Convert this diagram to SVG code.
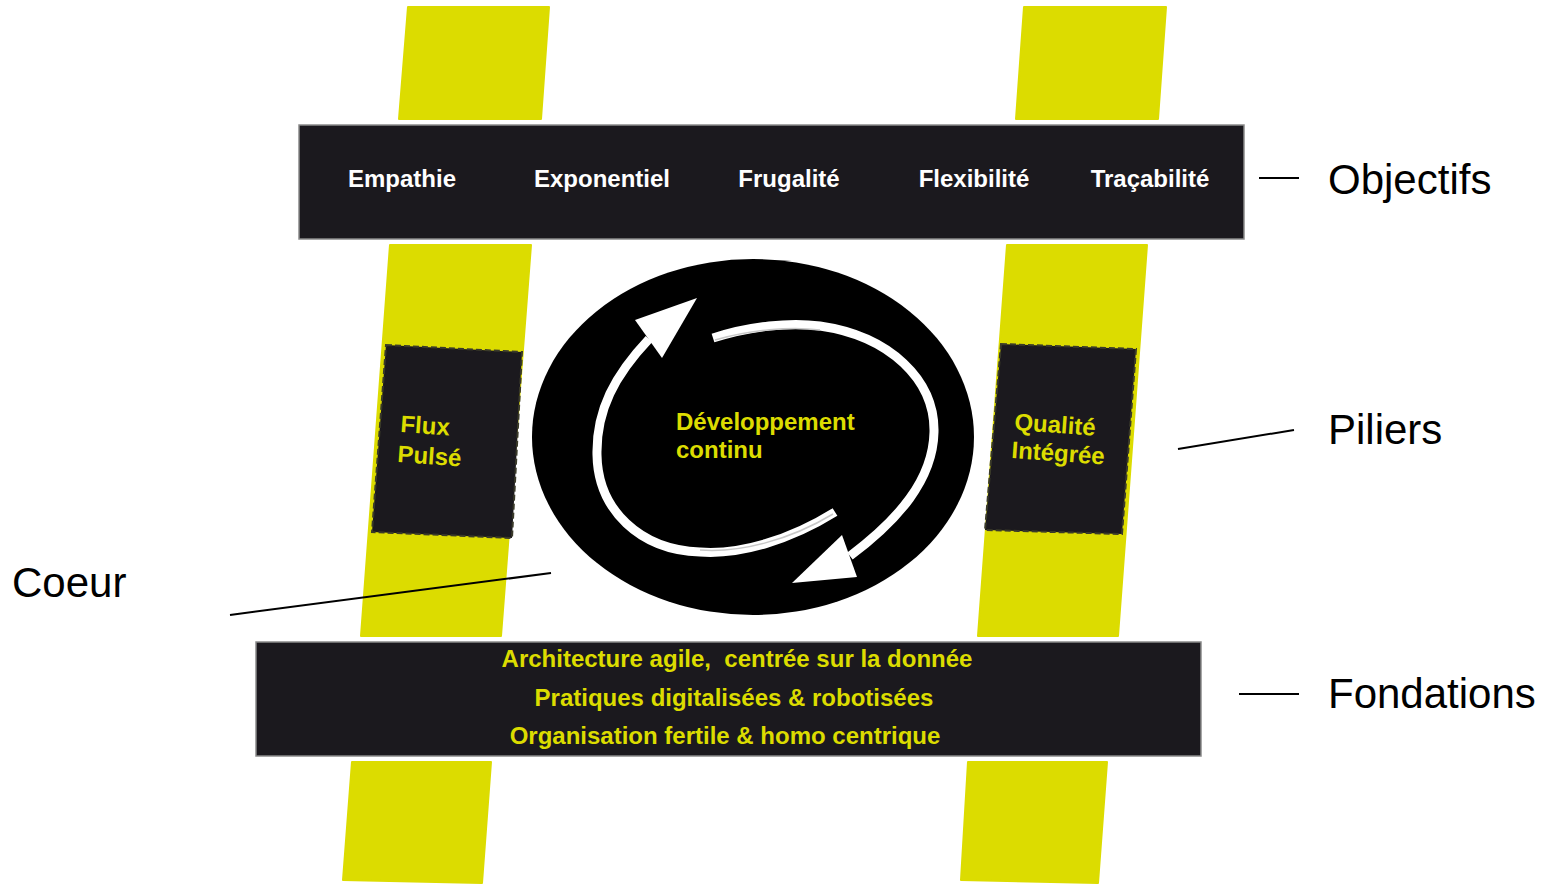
<svg xmlns="http://www.w3.org/2000/svg" width="1548" height="884" viewBox="0 0 1548 884">
<style>
.pil{fill:#dcdc00;stroke:#dcdc00;stroke-width:2;stroke-linejoin:round}
.bar{fill:#1b191e;stroke:#8a8a8a;stroke-width:1.5}
.box{fill:#1b191e;stroke:#3a3a2a;stroke-width:2;stroke-dasharray:6 3}
.tw{font-family:"Liberation Sans",Arial,sans-serif;font-weight:bold;font-size:24px;fill:#ffffff;text-anchor:middle}
.ty{font-family:"Liberation Sans",Arial,sans-serif;font-weight:bold;font-size:24px;fill:#dcdc00}
.tyc{text-anchor:middle;white-space:pre}
.lab{font-family:"Liberation Sans",Arial,sans-serif;font-size:42px;fill:#000000}
.ln{stroke:#000;stroke-width:2;fill:none}
.arc{fill:none;stroke:#ffffff;stroke-width:9;stroke-linecap:butt}
.arcin{fill:none;stroke:#c8c8c8;stroke-width:1.5}
</style>
<rect width="1548" height="884" fill="#ffffff"/>
<g id="pilier-gauche">
<polygon class="pil" points="408,7 549,7 541,119 399,119"/>
<polygon class="pil" points="390,245 531,245 501,636 361,636"/>
<polygon class="pil" points="352,762 491,762 482,883 343,880"/>
</g>
<g id="pilier-droit">
<polygon class="pil" points="1024,7 1166,7 1158,119 1016,119"/>
<polygon class="pil" points="1007,245 1147,245 1118,636 978,636"/>
<polygon class="pil" points="968,762 1107,762 1098,883 961,880"/>
</g>
<g id="objectifs">
<rect class="bar" x="299" y="125" width="945" height="114"/>
<text class="tw" x="402" y="187">Empathie</text>
<text class="tw" x="602" y="187">Exponentiel</text>
<text class="tw" x="789" y="187">Frugalité</text>
<text class="tw" x="974" y="187">Flexibilité</text>
<text class="tw" x="1150" y="187">Traçabilité</text>
</g>
<g id="fondations">
<rect class="bar" x="256" y="642" width="945" height="114"/>
<text class="ty tyc" x="737" y="667" xml:space="preserve">Architecture agile,  centrée sur la donnée</text>
<text class="ty tyc" x="734" y="706">Pratiques digitalisées &amp; robotisées</text>
<text class="ty tyc" x="725" y="744">Organisation fertile &amp; homo centrique</text>
</g>
<g id="flux-pulse">
<polygon class="box" points="386,345 522,352 512,538 372,532"/>
<text class="ty" x="400" y="432" transform="rotate(4 400 432)">Flux</text>
<text class="ty" x="397" y="462" transform="rotate(4 397 462)">Pulsé</text>
</g>
<g id="qualite-integree">
<polygon class="box" points="1001,344 1136,349 1122,534 985,530"/>
<text class="ty" x="1014" y="430" transform="rotate(4 1014 430)">Qualité</text>
<text class="ty" x="1011" y="458" transform="rotate(4 1011 458)">Intégrée</text>
</g>
<g id="coeur">
<ellipse cx="753" cy="437" rx="221" ry="178" fill="#000000"/>
<path class="arc" d="M835,512 C790,540 740,555 700,552 C640,550 598,510 597,455 C596,410 615,375 649,339"/>
<path class="arcin" d="M833,514 C790,540 740,553 700,550"/>
<polygon fill="#ffffff" points="697,298 635,320 662,358"/>
<path class="arc" d="M713,338 C750,326 790,322 820,326 C890,336 935,380 934,432 C933,480 898,520 850,556"/>
<path class="arcin" d="M715,340 C750,330 790,326 820,330"/>
<polygon fill="#ffffff" points="792,583 842,535 857,577"/>
<text class="ty" x="676" y="430">Développement</text>
<text class="ty" x="676" y="458">continu</text>
</g>
<g id="connecteurs">
<line class="ln" x1="1259" y1="178" x2="1299" y2="178"/>
<line class="ln" x1="1178" y1="449" x2="1294" y2="430"/>
<line class="ln" x1="1239" y1="694" x2="1299" y2="694"/>
<line class="ln" x1="230" y1="615" x2="551" y2="573"/>
</g>
<g id="labels">
<text class="lab" x="1328" y="194">Objectifs</text>
<text class="lab" x="1328" y="444">Piliers</text>
<text class="lab" x="1328" y="708">Fondations</text>
<text class="lab" x="12" y="597">Coeur</text>
</g>
</svg>
